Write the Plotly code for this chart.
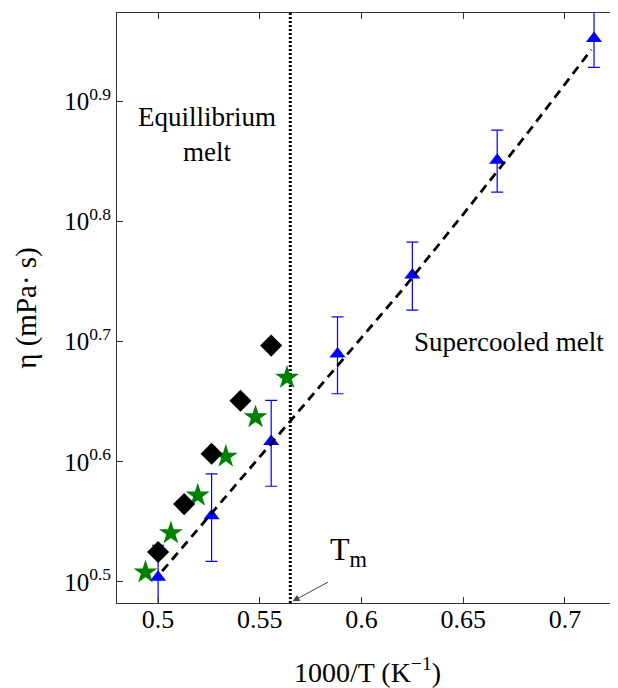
import numpy as np
import plotly.graph_objects as go

# ---- data ----
inv_T_diamond = [0.5, 0.5128, 0.5263, 0.5405, 0.5556]
log_eta_diamond = [0.525, 0.5648, 0.6067, 0.6508, 0.6967]

inv_T_star = [0.4938, 0.5063, 0.5195, 0.5333, 0.5479, 0.5634]
log_eta_star = [0.508, 0.5407, 0.572, 0.6044, 0.6372, 0.670]

inv_T_tri = [0.5, 0.5263, 0.5556, 0.5882, 0.625, 0.6667, 0.7143]
log_eta_tri = [0.504, 0.5551, 0.6169, 0.6898, 0.7554, 0.851, 0.9522]
err_tri = [0.20, 0.30, 0.34, 0.36, 0.37, 0.42, 0.48]

inv_T_fit = [0.502, 0.53, 0.56, 0.59, 0.62, 0.65, 0.68, 0.713]
log_eta_fit = [0.509, 0.5645, 0.6236, 0.684, 0.743, 0.806, 0.870, 0.943]

T_melt_inv = 0.565

y_tick_exps = [0.5, 0.6, 0.7, 0.8, 0.9]
y_tick_text = ["10<sup>0.5</sup>", "10<sup>0.6</sup>", "10<sup>0.7</sup>",
               "10<sup>0.8</sup>", "10<sup>0.9</sup>"]
x_tick_vals = [0.5, 0.55, 0.6, 0.65, 0.7]
x_tick_text = ["0.5", "0.55", "0.6", "0.65", "0.7"]

x_range = [0.4798, 0.7261]
y_range_log = [0.4825, 0.9735]

FONT = "Liberation Serif"

eta_d = 10 ** np.array(log_eta_diamond)
eta_s = 10 ** np.array(log_eta_star)
eta_t = 10 ** np.array(log_eta_tri)
eta_f = 10 ** np.array(log_eta_fit)

fig = go.Figure()

# dotted Tm line
fig.add_trace(go.Scatter(
    x=[T_melt_inv, T_melt_inv], y=[10 ** y_range_log[0], 10 ** y_range_log[1]],
    mode="lines", line=dict(color="black", width=3, dash="2px,2px"),
    showlegend=False, hoverinfo="skip"))

# stars
fig.add_trace(go.Scatter(
    x=inv_T_star, y=eta_s, mode="markers",
    marker=dict(symbol="star", size=18, color="#008000", line=dict(width=0)),
    showlegend=False))

# triangles with error bars
fig.add_trace(go.Scatter(
    x=inv_T_tri, y=eta_t, mode="markers",
    marker=dict(symbol="triangle-up", size=14, color="#0000ff", line=dict(width=0)),
    error_y=dict(type="data", array=err_tri, color="#0000ff", thickness=1.2, width=6),
    showlegend=False))

# dashed fit
fig.add_trace(go.Scatter(
    x=inv_T_fit, y=eta_f, mode="lines",
    line=dict(color="black", width=2.8, dash="9px,6px"),
    showlegend=False))

# diamonds
fig.add_trace(go.Scatter(
    x=inv_T_diamond, y=eta_d, mode="markers",
    marker=dict(symbol="diamond", size=17, color="black", line=dict(width=0)),
    showlegend=False))

fig.add_annotation(x=0.5239, y=np.log10(7.46), xref="x", yref="y",
                   text="Equillibrium<br>melt", showarrow=False,
                   font=dict(family=FONT, size=27, color="black"))
fig.add_annotation(x=0.6724, y=np.log10(5.01), xref="x", yref="y",
                   text="Supercooled melt", showarrow=False,
                   font=dict(family=FONT, size=27, color="black"))
fig.add_annotation(x=0.5834, y=np.log10(3.35), xref="x", yref="y",
                   text="T<sub>m</sub>", showarrow=False, xanchor="left",
                   font=dict(family=FONT, size=32, color="black"))
fig.add_annotation(x=0.5661, y=0.4839, xref="x", yref="y", text="",
                   showarrow=True, ax=37, ay=-20, arrowhead=2, arrowsize=1.4,
                   arrowwidth=1, arrowcolor="#444")

fig.update_xaxes(
    range=x_range, tickvals=x_tick_vals, ticktext=x_tick_text, automargin=False,
    ticks="inside", ticklen=6, tickcolor="#333", showline=True, linecolor="#333",
    linewidth=1, mirror="ticks", showgrid=False, zeroline=False,
    ticklabelstandoff=-7,
    tickfont=dict(family=FONT, size=26, color="black"),
    title=dict(text="1000/T (K<sup>−1</sup>)", font=dict(family=FONT, size=28, color="black"),
               standoff=30))
fig.update_yaxes(
    type="log", range=y_range_log, tickvals=[10 ** e for e in y_tick_exps],
    ticktext=y_tick_text, ticks="inside", ticklen=6, tickcolor="#333", automargin=False,
    showline=True, linecolor="#333", linewidth=1, showgrid=False, zeroline=False,
    tickfont=dict(family=FONT, size=25, color="black"),
    title=dict(text="η (mPa· s)", font=dict(family=FONT, size=29, color="black"),
               standoff=18))

# page body adds an 8px offset; size the figure so the plot box lands where the reference has it
fig.update_layout(
    width=610, height=680, plot_bgcolor="white", paper_bgcolor="white",
    margin=dict(l=109, r=0, t=5, b=85), showlegend=False)

fig.write_html("out.html")
